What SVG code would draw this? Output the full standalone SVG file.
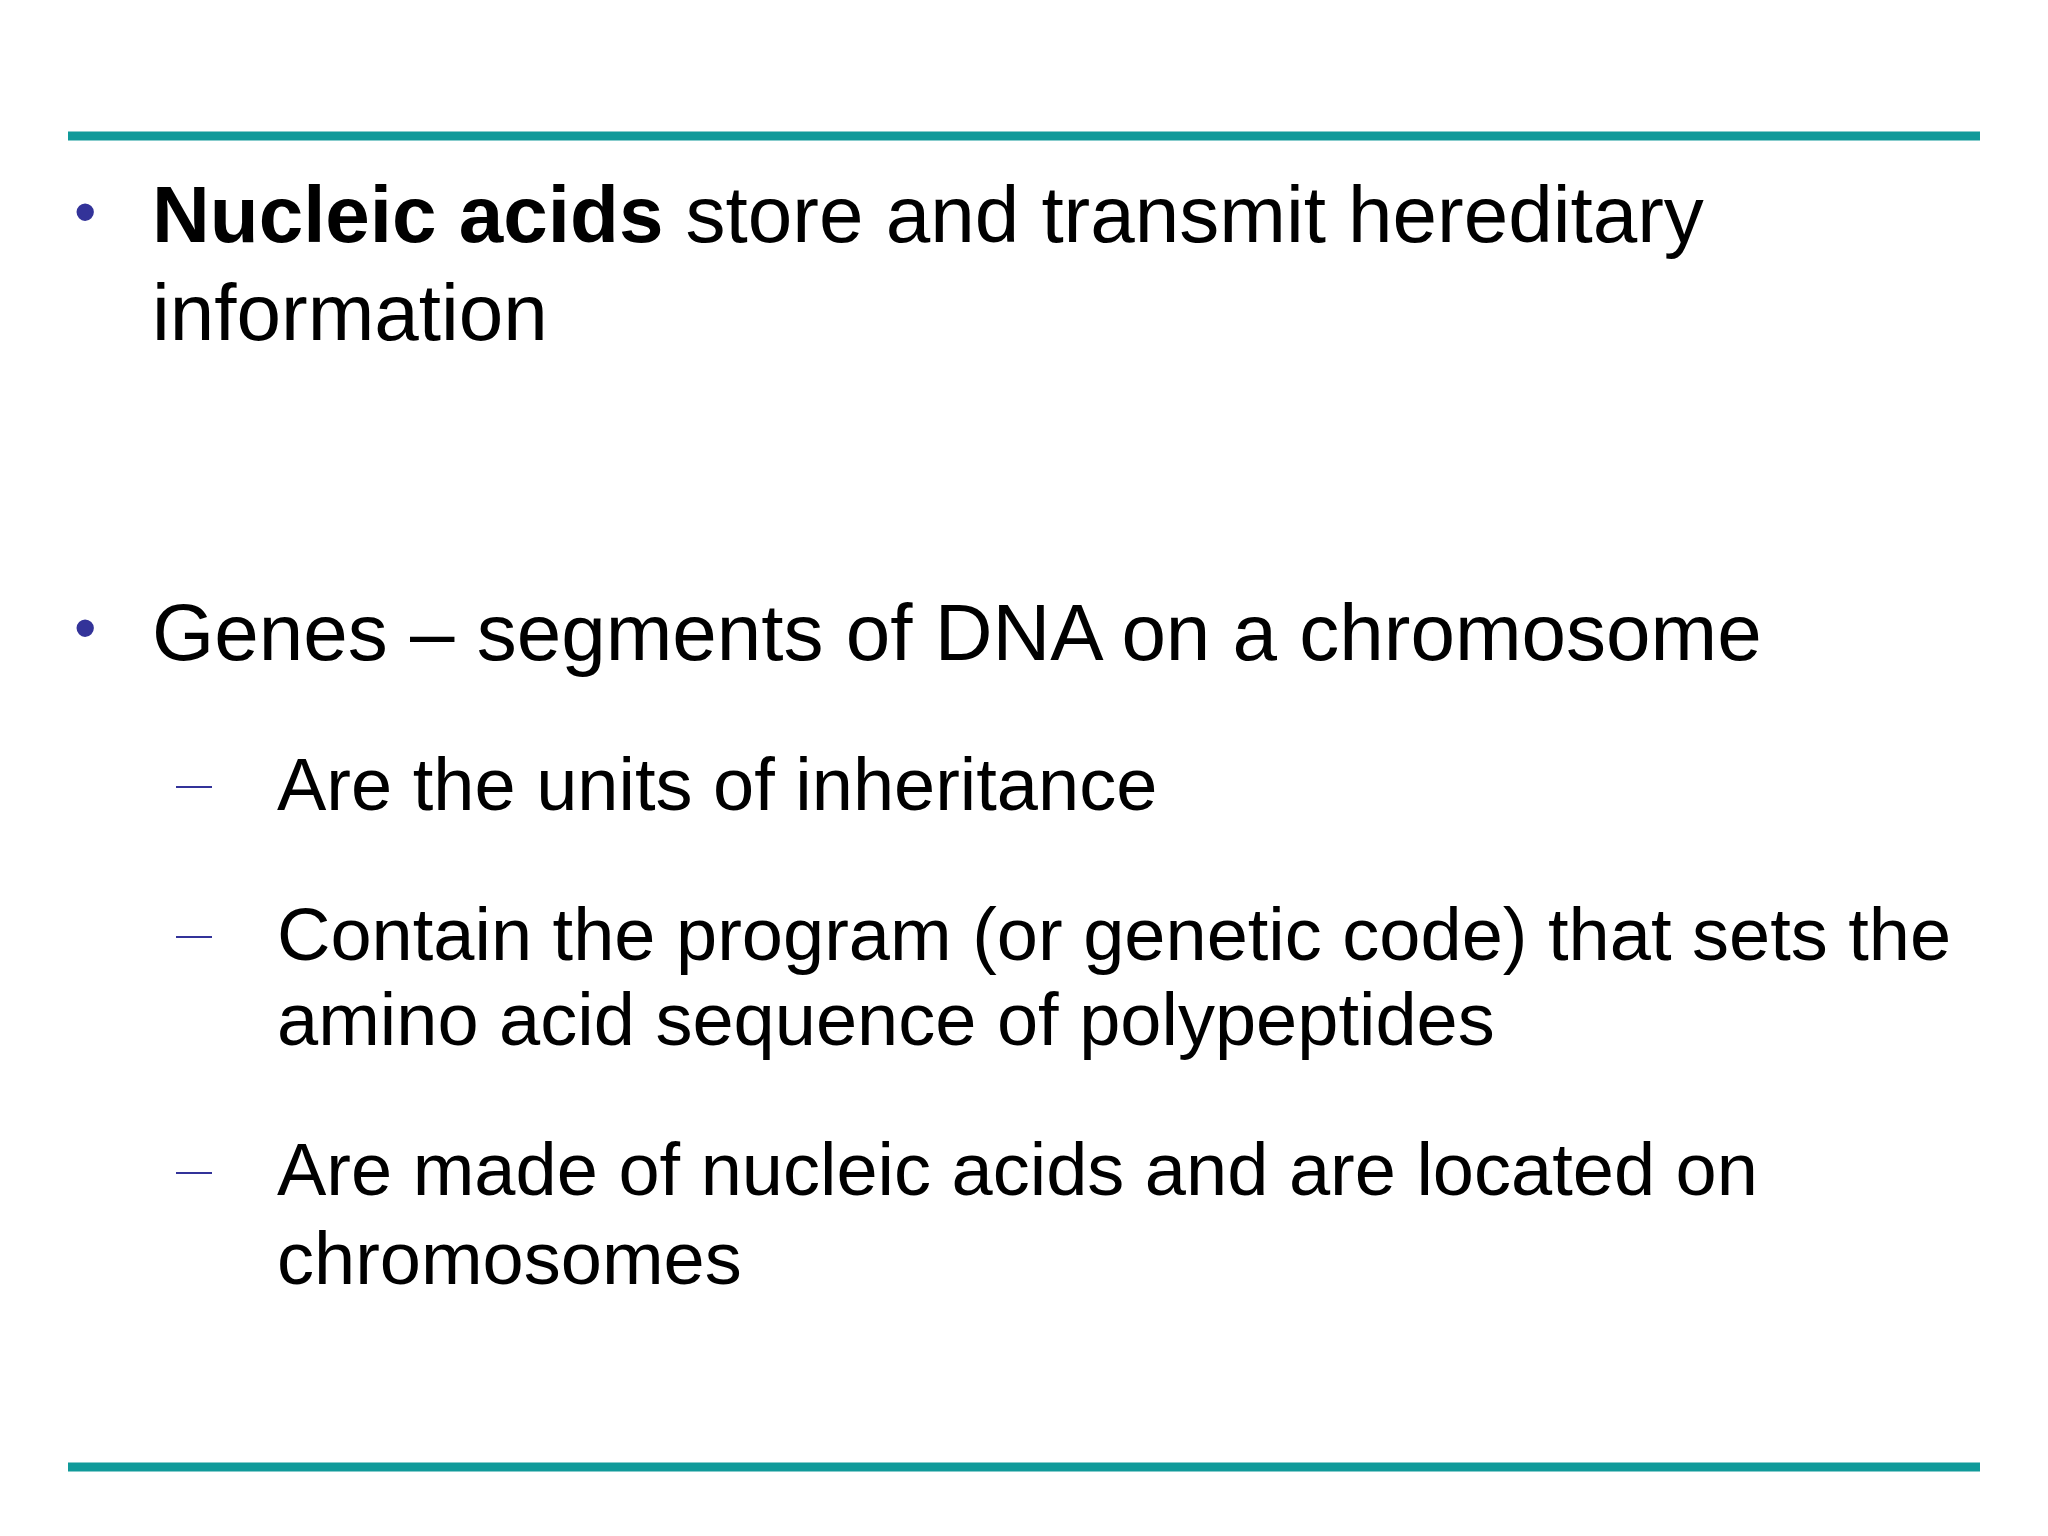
<svg xmlns="http://www.w3.org/2000/svg" width="2048" height="1536" viewBox="0 0 2048 1536">
<style>
.t{font-family:"Liberation Sans",Arial,sans-serif;fill:#000}
.l1{font-size:80px}
.l2{font-size:74px}
.b{fill:#333399;font-family:"Liberation Sans",Arial,sans-serif;font-size:64px}
.d{stroke:#333399;stroke-width:2}
.rule{stroke:#109a9a;stroke-width:9}
</style>
<rect width="2048" height="1536" fill="#fff"/>
<line class="rule" x1="68" y1="136" x2="1980" y2="136"/>
<line class="rule" x1="68" y1="1467" x2="1980" y2="1467"/>
<text class="b" x="74" y="234">•</text>
<text class="t l1" x="152" y="242"><tspan font-weight="bold">Nucleic acids</tspan> store and transmit hereditary</text>
<text class="t l1" x="152" y="340">information</text>
<text class="b" x="74" y="650">•</text>
<text class="t l1" x="152" y="660">Genes – segments of DNA on a chromosome</text>
<line class="d" x1="176" y1="787" x2="212" y2="787"/>
<text class="t l2" x="277" y="810">Are the units of inheritance</text>
<line class="d" x1="176" y1="937" x2="212" y2="937"/>
<text class="t l2" x="277" y="960">Contain the program (or genetic code) that sets the</text>
<text class="t l2" x="277" y="1045">amino acid sequence of polypeptides</text>
<line class="d" x1="176" y1="1173" x2="212" y2="1173"/>
<text class="t l2" x="277" y="1195">Are made of nucleic acids and are located on</text>
<text class="t l2" x="277" y="1284">chromosomes</text>
</svg>
